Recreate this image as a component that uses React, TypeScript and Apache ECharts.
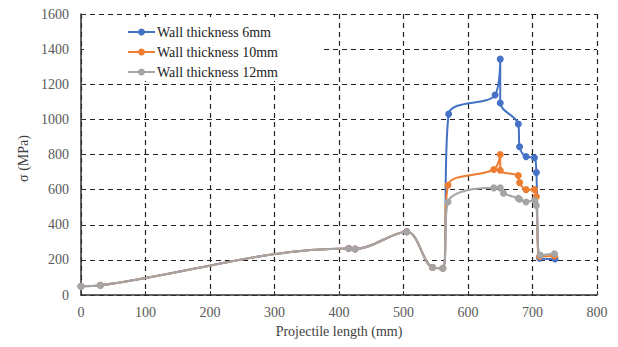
import React, { useEffect, useRef } from "react";
import * as echarts from "echarts";

const xTicks = [0, 100, 200, 300, 400, 500, 600, 700, 800];
const yTicks = [0, 200, 400, 600, 800, 1000, 1200, 1400, 1600];
const xTitle = "Projectile length (mm)";
const yTitle = "σ (MPa)";

const seriesNames = ["Wall thickness 6mm", "Wall thickness 10mm", "Wall thickness 12mm"];

const commonX = [0, 30, 415, 425, 505, 545, 561];
const commonY = [50, 55, 265, 262, 360, 157, 152];

const x6 = [570, 642, 650, 650, 678, 680, 690, 703, 706, 711, 735];
const y6 = [1030, 1139, 1343, 1093, 974, 844, 788, 782, 697, 210, 205];

const x10 = [569, 640, 650, 650, 678, 680, 690, 703, 706, 711, 734];
const y10 = [625, 715, 800, 710, 680, 640, 600, 600, 560, 220, 222];

const x12 = [569, 640, 650, 655, 678, 680, 690, 703, 706, 712, 734];
const y12 = [530, 610, 610, 580, 550, 545, 530, 540, 510, 227, 235];

const colors = ["#4472C4", "#ED7D31", "#A5A5A5"];

function build(xs: number[], ys: number[]) {
  const pts: number[][] = [];
  commonX.forEach((x, i) => pts.push([x, commonY[i]]));
  xs.forEach((x, i) => pts.push([x, ys[i]]));
  return pts;
}

const FONT = "14px 'Liberation Serif', serif";

export default function App() {
  const ref = useRef<HTMLDivElement>(null);
  useEffect(() => {
    if (!ref.current) return;
    const chart = echarts.init(ref.current, undefined, { renderer: "svg" });
    const data = [build(x6, y6), build(x10, y10), build(x12, y12)];
    chart.setOption({
      animation: false,
      grid: { left: 81, right: 21, top: 14, bottom: 52 },
      xAxis: {
        type: "value",
        min: xTicks[0],
        max: xTicks[xTicks.length - 1],
        interval: 100,
        axisLine: { show: true, lineStyle: { color: "#333", width: 1.5 } },
        axisTick: { show: true, inside: true, length: 4, lineStyle: { color: "#333" } },
        axisLabel: { show: false },
        splitLine: { show: true, lineStyle: { color: "#222", type: [5, 4], width: 1.2 } },
      },
      yAxis: {
        type: "value",
        min: yTicks[0],
        max: yTicks[yTicks.length - 1],
        interval: 200,
        axisLine: { show: true, lineStyle: { color: "#333", width: 1.5 } },
        axisTick: { show: true, inside: true, length: 4, lineStyle: { color: "#333" } },
        axisLabel: { show: false },
        splitLine: { show: true, lineStyle: { color: "#222", type: [5, 4], width: 1.2 } },
      },
      series: seriesNames.map((name, i) => ({
        name,
        type: "line",
        data: data[i],
        smooth: 0.35,
        symbol: "circle",
        symbolSize: 7,
        showSymbol: true,
        lineStyle: { color: colors[i], width: 2 },
        itemStyle: { color: colors[i] },
        z: 2 + i,
      })),
    });

    const els: any[] = [];
    // axis tick labels, positioned through the chart's own scales
    xTicks.forEach((t) => {
      const p = chart.convertToPixel({ gridIndex: 0 }, [t, yTicks[0]]) as number[];
      els.push({
        type: "text",
        x: p[0],
        y: p[1] + 10,
        style: { text: String(t), font: FONT, fill: "#595959", align: "center", verticalAlign: "top" },
      });
    });
    yTicks.forEach((t) => {
      const p = chart.convertToPixel({ gridIndex: 0 }, [xTicks[0], t]) as number[];
      els.push({
        type: "text",
        x: p[0] - 12,
        y: p[1],
        style: { text: String(t), font: FONT, fill: "#595959", align: "right", verticalAlign: "middle" },
      });
    });
    const pL = chart.convertToPixel({ gridIndex: 0 }, [xTicks[0], yTicks[0]]) as number[];
    const pR = chart.convertToPixel({ gridIndex: 0 }, [xTicks[xTicks.length - 1], yTicks[yTicks.length - 1]]) as number[];
    els.push({
      type: "text",
      x: (pL[0] + pR[0]) / 2,
      y: pL[1] + 36,
      style: { text: xTitle, font: FONT, fill: "#404040", align: "center", verticalAlign: "middle" },
    });
    els.push({
      type: "text",
      x: pL[0] - 58,
      y: (pL[1] + pR[1]) / 2 + 4,
      rotation: Math.PI / 2,
      style: { text: yTitle, font: FONT, fill: "#404040", align: "center", verticalAlign: "middle" },
    });

    // legend box
    els.push({
      type: "rect",
      shape: { x: pL[0] + 3, y: pR[1] + 3, width: 236, height: 64 },
      style: { fill: "#ffffff" },
      z: 9,
    });
    seriesNames.forEach((name, i) => {
      const cy = pR[1] + 18 + i * 20;
      const lx = pL[0] + 47;
      els.push({
        type: "line",
        shape: { x1: lx, y1: cy, x2: lx + 27, y2: cy },
        style: { stroke: colors[i], lineWidth: 2 },
        z: 10,
      });
      els.push({
        type: "circle",
        shape: { cx: lx + 13.5, cy, r: 3.5 },
        style: { fill: colors[i] },
        z: 10,
      });
      els.push({
        type: "text",
        x: lx + 29,
        y: cy,
        style: { text: name, fill: "#222", font: FONT, verticalAlign: "middle", align: "left" },
        z: 10,
      });
    });
    chart.setOption({ graphic: els });
    return () => chart.dispose();
  }, []);
  return <div ref={ref} style={{ width: 618, height: 347, position: "absolute", left: 0, top: 0 }} />;
}
